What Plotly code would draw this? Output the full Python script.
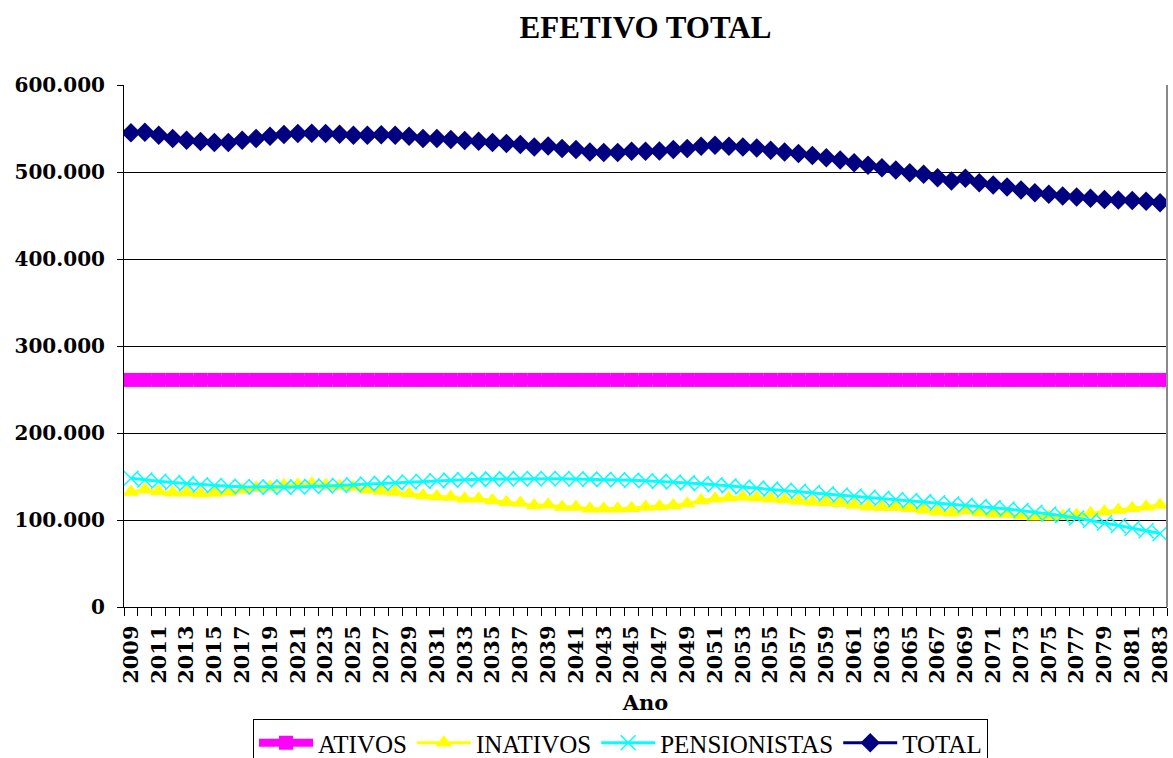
import plotly.graph_objects as go

years = list(range(2009, 2084))

ativos = [
    261000, 261000, 261000, 261000, 261000, 261000, 261000, 261000, 261000, 261000,
    261000, 261000, 261000, 261000, 261000, 261000, 261000, 261000, 261000, 261000,
    261000, 261000, 261000, 261000, 261000, 261000, 261000, 261000, 261000, 261000,
    261000, 261000, 261000, 261000, 261000, 261000, 261000, 261000, 261000, 261000,
    261000, 261000, 261000, 261000, 261000, 261000, 261000, 261000, 261000, 261000,
    261000, 261000, 261000, 261000, 261000, 261000, 261000, 261000, 261000, 261000,
    261000, 261000, 261000, 261000, 261000, 261000, 261000, 261000, 261000, 261000,
    261000, 261000, 261000, 261000, 261000,
]

inativos = [
    132100, 134800, 132900, 131400, 131400, 130200, 130900, 132100, 134800, 137100,
    137800, 139800, 140600, 141700, 139800, 139000, 137800, 134800, 133200, 132100,
    130200, 128300, 127100, 126300, 124400, 124400, 122500, 120500, 119400, 116700,
    117500, 114800, 114800, 112900, 112900, 112900, 113600, 114800, 115600, 116700,
    118700, 122500, 124400, 125600, 126300, 125600, 124400, 123300, 121700, 120800,
    120000, 119300, 117300, 115300, 114600, 114600, 113500, 111500, 109600, 108400,
    110700, 108400, 106900, 106900, 104600, 103800, 103800, 104600, 105800, 107700,
    109600, 111500, 113500, 115300, 117300,
]

pensionistas = [
    148000, 146000, 144500, 143000, 141800, 140600, 139600, 138800, 138200, 137900,
    137800, 137800, 138000, 138400, 139000, 139700, 140500, 141300, 142100, 142900,
    143700, 144500, 145200, 145800, 146300, 146700, 147000, 147300, 147500, 147500,
    147500, 147400, 147200, 147000, 146600, 146200, 145700, 145100, 144400, 143600,
    142700, 141700, 140500, 139200, 137900, 136700, 135500, 134300, 133000, 131600,
    130200, 128800, 127500, 126200, 124900, 123600, 122400, 121100, 119800, 118400,
    117000, 115600, 114200, 112600, 110900, 109000, 107000, 104800, 102300, 99500,
    96600, 93600, 90600, 87600, 84500,
]

total = [
    545000, 545800, 542300, 538500, 536600, 535000, 533900, 533900, 536600, 538500,
    541200, 543100, 544300, 544600, 544300, 543500, 542300, 542300, 542700, 542300,
    541200, 538500, 538500, 537400, 536300, 535400, 533900, 532800, 531600, 528800,
    530000, 527000, 525800, 523000, 522400, 522400, 523900, 523900, 524200, 525800,
    527000, 529600, 530800, 529600, 528800, 527700, 525000, 523000, 521200, 519000,
    516500, 513800, 510700, 507700, 505000, 502300, 499200, 497300, 493400, 489600,
    492700, 487700, 485000, 482700, 479200, 476100, 474300, 472300, 471200, 469700,
    468500, 467700, 467300, 466500, 464600,
]

label_years = [y for y in years if y % 2 == 1]
label_text = [str(y) for y in label_years]

y_tick_font = dict(family="DejaVu Serif", size=20, color="black", weight="bold")
x_tick_font = dict(family="DejaVu Serif", size=21, color="black", weight="bold")

fig = go.Figure()
fig.add_trace(go.Scatter(
    x=years, y=ativos, name="ATIVOS", mode="lines+markers",
    line=dict(color="#FF00FF", width=8),
    marker=dict(symbol="square", size=14, color="#FF00FF"),
))
fig.add_trace(go.Scatter(
    x=years, y=inativos, name="INATIVOS", mode="lines+markers",
    line=dict(color="#FFFF00", width=3),
    marker=dict(symbol="triangle-up", size=15, color="#FFFF00"),
))
fig.add_trace(go.Scatter(
    x=years, y=pensionistas, name="PENSIONISTAS", mode="lines+markers",
    line=dict(color="#00FFFF", width=3),
    marker=dict(symbol="x-thin", size=15, color="#00FFFF",
                line=dict(color="#00FFFF", width=1.5)),
))
fig.add_trace(go.Scatter(
    x=years, y=total, name="TOTAL", mode="lines+markers",
    line=dict(color="#000080", width=3),
    marker=dict(symbol="diamond", size=15, color="#000080"),
))

fig.update_layout(
    width=1173, height=758,
    margin=dict(l=124, r=6, t=85, b=151, autoexpand=False),
    paper_bgcolor="white", plot_bgcolor="white",
    separators=",.",
    title=dict(text="EFETIVO TOTAL", x=0.5, xref="paper", xanchor="center",
               y=1 - 27 / 758, yanchor="middle",
               font=dict(family="Liberation Serif", size=31, color="black", weight="bold")),
    legend=dict(orientation="h", x=(253 - 124) / 1043, xanchor="left",
                y=(607 - 719) / 522, yanchor="top",
                bordercolor="black", borderwidth=1, bgcolor="white",
                font=dict(family="Liberation Serif", size=25, color="black"),
                itemwidth=54, traceorder="normal"),
    shapes=[dict(type="line", xref="paper", yref="paper", x0=1, x1=1, y0=0, y1=1,
                 line=dict(color="#888888", width=2))],
)

fig.update_xaxes(
    type="linear", range=[2008.5, 2083.5], automargin=False,
    tickmode="array", tickvals=label_years, ticktext=label_text,
    tickangle=-90, ticks="outside", ticklen=9, tickcolor="rgba(0,0,0,0)",
    tickfont=x_tick_font,
    showline=True, linecolor="black", linewidth=1,
    showgrid=False, zeroline=False,
    minor=dict(tickmode="linear", tick0=2008.5, dtick=1, ticks="outside",
               ticklen=8, tickcolor="black", tickwidth=1, showgrid=False),
    title=dict(text="Ano", standoff=12,
               font=dict(family="DejaVu Serif", size=21, color="black", weight="bold")),
)

fig.update_yaxes(
    range=[0, 600000], tick0=0, dtick=100000, tickformat=",d", automargin=False,
    showgrid=True, gridcolor="black", gridwidth=1,
    showline=True, linecolor="black", linewidth=1,
    ticks="outside", ticklen=6, tickcolor="black",
    ticklabelstandoff=8,
    zeroline=False, tickfont=y_tick_font,
)

fig.write_html("out.html", config={"displayModeBar": False},
               post_script="document.body.style.margin='0';document.body.style.overflow='hidden';")
